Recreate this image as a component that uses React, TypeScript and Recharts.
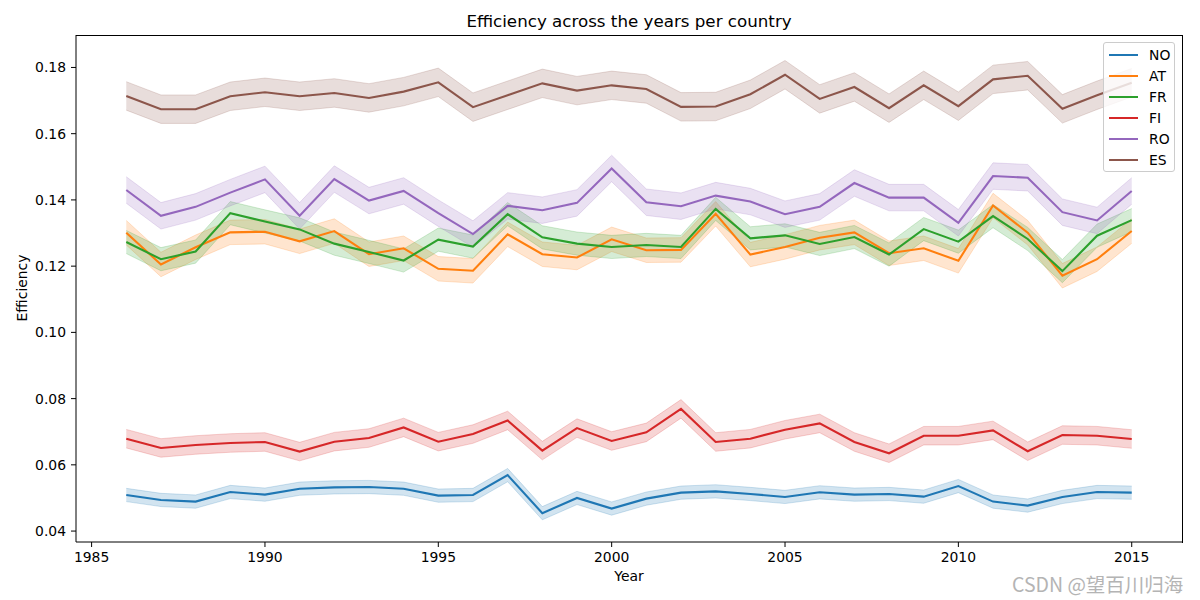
import { ComposedChart, Line, Area, XAxis, YAxis } from 'recharts';

const YEARS = [
  1986, 1987, 1988, 1989, 1990, 1991, 1992, 1993, 1994, 1995,
  1996, 1997, 1998, 1999, 2000, 2001, 2002, 2003, 2004, 2005,
  2006, 2007, 2008, 2009, 2010, 2011, 2012, 2013, 2014, 2015,
];

const NO = [
  0.0509, 0.0494, 0.0489, 0.0518, 0.051, 0.0528, 0.0532, 0.0533, 0.0528, 0.0507,
  0.0509, 0.0569, 0.0454, 0.05, 0.0468, 0.0498, 0.0516, 0.052, 0.0512, 0.0503,
  0.0517, 0.051, 0.0512, 0.0504, 0.0536, 0.0489, 0.0477, 0.0503, 0.0518, 0.0516,
];
const AT = [
  0.1301, 0.1205, 0.1257, 0.1302, 0.1304, 0.1275, 0.1306, 0.1236, 0.1254, 0.1192,
  0.1186, 0.1296, 0.1236, 0.1226, 0.1281, 0.1248, 0.1249, 0.1358, 0.1235, 0.1258,
  0.1286, 0.1302, 0.1239, 0.1254, 0.1216, 0.1383, 0.1301, 0.1171, 0.1221, 0.1306,
];
const FR = [
  0.1273, 0.1221, 0.1244, 0.136, 0.1335, 0.1311, 0.1268, 0.1243, 0.1217, 0.128,
  0.1259, 0.1357, 0.1287, 0.1268, 0.1258, 0.1264, 0.1258, 0.1373, 0.1284, 0.1293,
  0.1267, 0.1288, 0.1235, 0.1312, 0.1274, 0.1351, 0.1282, 0.1185, 0.1292, 0.1339,
];
const FI = [
  0.0679, 0.0651, 0.066, 0.0666, 0.0669, 0.064, 0.067, 0.0681, 0.0713, 0.067,
  0.0693, 0.0734, 0.0643, 0.0711, 0.0672, 0.0698, 0.0769, 0.0669, 0.0679, 0.0706,
  0.0725, 0.0669, 0.0635, 0.0688, 0.0688, 0.0704, 0.0641, 0.069, 0.0688, 0.0678,
];
const RO = [
  0.143, 0.1352, 0.1379, 0.1422, 0.1462, 0.1352, 0.1463, 0.1398, 0.1427, 0.136,
  0.1297, 0.1382, 0.1369, 0.1391, 0.1495, 0.1393, 0.1381, 0.1413, 0.1395, 0.1357,
  0.1379, 0.1451, 0.1407, 0.1407, 0.1331, 0.1472, 0.1467, 0.1363, 0.1338, 0.1427,
];
const ES = [
  0.1714, 0.1674, 0.1674, 0.1713, 0.1725, 0.1713, 0.1723, 0.1708, 0.1727, 0.1755,
  0.168, 0.1716, 0.1752, 0.173, 0.1746, 0.1735, 0.1681, 0.1682, 0.1719, 0.1778,
  0.1705, 0.1741, 0.1677, 0.1746, 0.1683, 0.1764, 0.1775, 0.1675, 0.1716, 0.1754,
];

// half-width of the shaded confidence band
const CI = { NO: 0.002, AT: 0.0037, FR: 0.0035, FI: 0.0028, RO: 0.004, ES: 0.0043 };

const X_TICKS = [1985, 1990, 1995, 2000, 2005, 2010, 2015];
const Y_TICKS = [0.04, 0.06, 0.08, 0.1, 0.12, 0.14, 0.16, 0.18];

const SERIES = [
  { name: 'NO', color: '#1f77b4', values: NO },
  { name: 'AT', color: '#ff7f0e', values: AT },
  { name: 'FR', color: '#2ca02c', values: FR },
  { name: 'FI', color: '#d62728', values: FI },
  { name: 'RO', color: '#9467bd', values: RO },
  { name: 'ES', color: '#8c564b', values: ES },
];

const data = YEARS.map((year, i) => {
  const row: any = { year };
  SERIES.forEach((s) => {
    const v = s.values[i];
    const ci = (CI as any)[s.name];
    row[s.name] = v;
    row[s.name + '_band'] = [v - ci, v + ci];
  });
  return row;
});

const FONT = '"DejaVu Sans", sans-serif';
const X_DOMAIN = [1984.55, 2016.45];
const Y_DOMAIN = [0.0367, 0.1898];

export default function App() {
  return (
    <div style={{ position: 'absolute', left: 0, top: 0, width: 1200, height: 600, background: '#fff', fontFamily: FONT }}>
      <ComposedChart width={1200} height={600} data={data} margin={{ top: 35, right: 18, bottom: 0, left: 0 }}>
        <XAxis
          dataKey="year" type="number" domain={X_DOMAIN} ticks={X_TICKS} allowDataOverflow
          height={58} tickSize={5} tickMargin={5} stroke="#000"
          tick={{ fill: '#000', fontSize: 13.9, fontFamily: FONT }}
        />
        <YAxis
          type="number" domain={Y_DOMAIN} ticks={Y_TICKS} allowDataOverflow
          width={76} tickSize={5} tickMargin={5} stroke="#000"
          tickFormatter={(v: number) => v.toFixed(2)}
          tick={{ fill: '#000', fontSize: 13.9, fontFamily: FONT }}
        />
        {SERIES.map((s) => (
          <Area
            key={s.name + '_band'} dataKey={s.name + '_band'} type="linear"
            stroke={s.color} strokeOpacity={0.2} strokeWidth={1}
            fill={s.color} fillOpacity={0.2}
            dot={false} activeDot={false} isAnimationActive={false}
          />
        ))}
        {SERIES.map((s) => (
          <Line
            key={s.name} dataKey={s.name} type="linear" stroke={s.color} strokeWidth={2.1}
            dot={false} activeDot={false} isAnimationActive={false}
          />
        ))}
      </ComposedChart>

      {/* top and right spines */}
      <div style={{ position: 'absolute', left: 76, top: 35, width: 1106, height: 1, background: '#000' }} />
      <div style={{ position: 'absolute', left: 1182, top: 35, width: 1, height: 508, background: '#000' }} />

      <div style={{ position: 'absolute', left: 0, width: 1200, top: 11, textAlign: 'center', paddingLeft: 58, boxSizing: 'border-box', fontSize: 16.7, color: '#000' }}>
        Efficiency across the years per country
      </div>
      <div style={{ position: 'absolute', left: 0, width: 1200, top: 568, textAlign: 'center', paddingLeft: 58, boxSizing: 'border-box', fontSize: 13.9, color: '#000' }}>
        Year
      </div>
      <div style={{ position: 'absolute', left: 22, top: 288, fontSize: 13.9, color: '#000', transform: 'translate(-50%, -50%) rotate(-90deg)', whiteSpace: 'nowrap' }}>
        Efficiency
      </div>

      <div style={{ position: 'absolute', left: 1103, top: 42, width: 72, height: 130, background: 'rgba(255,255,255,0.8)', border: '1px solid #cccccc', borderRadius: 3, boxSizing: 'border-box' }}>
        {SERIES.map((s, i) => (
          <div key={s.name} style={{ position: 'absolute', left: 0, top: 2 + Math.round(i * 20.9), height: 20, display: 'flex', alignItems: 'center' }}>
            <div style={{ marginLeft: 5, width: 29, height: 2, background: s.color }} />
            <span style={{ marginLeft: 11, fontSize: 13.9, color: '#000' }}>{s.name}</span>
          </div>
        ))}
      </div>

      <div style={{ position: 'absolute', left: 1012, top: 569, fontSize: 19.5, color: '#b4b4b4', fontFamily: '"Noto Sans CJK SC", sans-serif', whiteSpace: 'nowrap' }}>
        CSDN @望百川归海
      </div>
    </div>
  );
}
